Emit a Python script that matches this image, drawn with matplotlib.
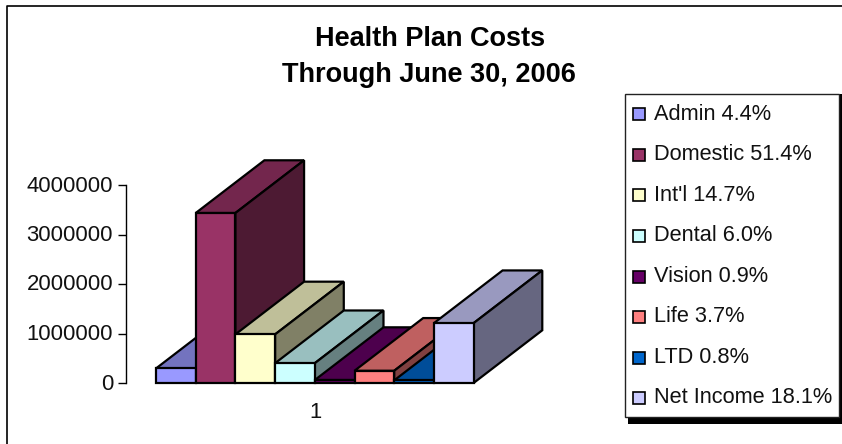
import matplotlib
matplotlib.use('Agg')
import matplotlib.pyplot as plt
from matplotlib.lines import Line2D
from matplotlib.patches import Rectangle
from matplotlib.colors import to_rgb
from matplotlib.transforms import ScaledTranslation

plt.rcParams['font.family'] = ['Liberation Sans', 'DejaVu Sans']

W, H = 842, 444

# values
labels = ['Admin 4.4%', 'Domestic 51.4%', "Int'l 14.7%", 'Dental 6.0%',
          'Vision 0.9%', 'Life 3.7%', 'LTD 0.8%', 'Net Income 18.1%']
values = [294000, 3434000, 982000, 400000, 60000, 247000, 53000, 1209000]
colors = ['#9999FF', '#993366', '#FFFFCC', '#CCFFFF',
          '#660066', '#FF8080', '#0066CC', '#CCCCFF']
yticks = [0, 1000000, 2000000, 3000000, 4000000]
category = ['1']

# 3D look: how far the back of a bar is shifted, in data units
depth_x = 1.73
depth_y = 1065000


def shade(c, f):
    return tuple(v * f for v in to_rgb(c))


fig = plt.figure(figsize=(W / 100, H / 100), dpi=100)

# chart frame, only top and left fall inside the picture
fig.add_artist(Line2D([7 / W, 7 / W, 1], [0, 1 - 6 / H, 1 - 6 / H], color='black', lw=1.2))

# axes: x 0..8 covers the bar run, y 0..4M the axis
left, right = 125.5, 473.5 + 68.7
x0 = -(156 - left) / 39.7
x1 = (right - 156) / 39.7
ax = fig.add_axes([left / W, 1 - 383 / H, (right - left) / W, 198 / H])
ax.patch.set_alpha(0)
ax.set_xlim(x0, x1)
ax.set_ylim(0, 4000000)

edge = dict(edgecolor='black', linewidth=1.6, joinstyle='miter', clip_on=False)
for i, (val, col) in enumerate(zip(values, colors)):
    # top, side, front - later bars paint over earlier ones
    ax.fill([i, i + 1, i + 1 + depth_x, i + depth_x],
            [val, val, val + depth_y, val + depth_y], facecolor=shade(col, 0.75), **edge)
    ax.fill([i + 1, i + 1 + depth_x, i + 1 + depth_x, i + 1],
            [0, depth_y, val + depth_y, val], facecolor=shade(col, 0.5), **edge)
    ax.bar(i, val, width=1, align='edge', color=col, clip_on=False, edgecolor='black', linewidth=1.6)

for s in ['top', 'right', 'bottom']:
    ax.spines[s].set_visible(False)
ax.spines['left'].set_linewidth(1)
ax.set_yticks(yticks)
ax.set_yticklabels([str(t) for t in yticks], fontsize=15.9)
ax.tick_params(axis='y', length=6, width=1, pad=3, labelcolor='#111111')
ax.set_xticks([len(values) / 2 + 0.03])
ax.set_xticklabels(category, fontsize=15.9)
ax.tick_params(axis='x', length=0, pad=14, labelcolor='#111111')

# nudge the y labels up a little, the original sits above its ticks
nudge = ScaledTranslation(0, 1.5 / 100, fig.dpi_scale_trans)
for lab in ax.get_yticklabels():
    lab.set_transform(lab.get_transform() + nudge)

# title
fig.text(430 / W, 1 - 38.5 / H, 'Health Plan Costs', fontsize=19.5, fontweight='bold', ha='center', va='center')
fig.text(429 / W, 1 - 74.5 / H, 'Through June 30, 2006', fontsize=19.5, fontweight='bold', ha='center', va='center')

# legend, drawn by hand to keep the spacing of the original
fig.add_artist(Rectangle((628 / W, 1 - 424 / H), 216 / W, 330 / H, transform=fig.transFigure,
                         fc='black', ec='none'))
fig.add_artist(Rectangle((624.5 / W, 1 - 416.5 / H), 214.5 / W, 322.5 / H, transform=fig.transFigure,
                         fc='white', ec='#222222', lw=1))
for i, (lab, col) in enumerate(zip(labels, colors)):
    yc = 114.5 + i * 40.5
    fig.add_artist(Rectangle((633 / W, 1 - (yc + 6) / H), 12 / W, 12 / H, transform=fig.transFigure,
                             fc=col, ec='black', lw=1.2))
    fig.text(654 / W, 1 - (yc - 0.5) / H, lab, fontsize=15.7, color='#111111', ha='left', va='center')

fig.savefig('out.png', dpi=100)
